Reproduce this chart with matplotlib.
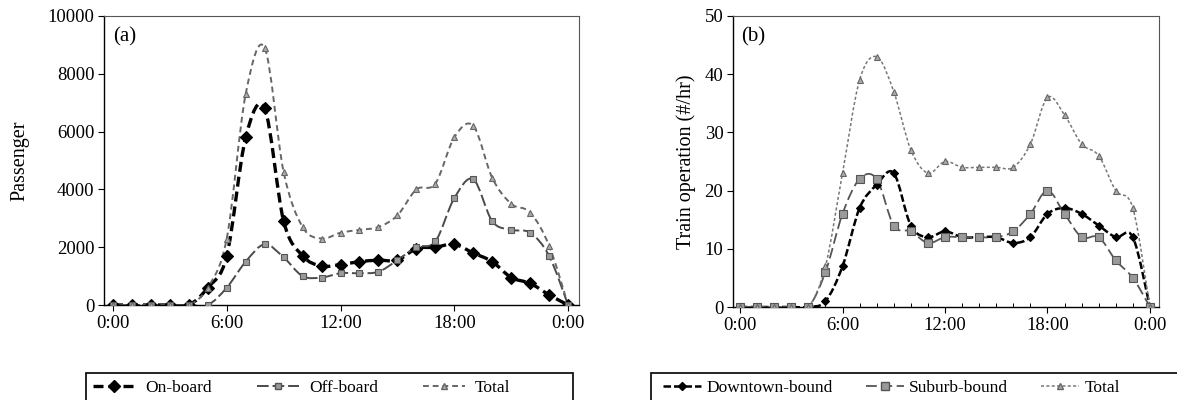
import numpy as np
import matplotlib.pyplot as plt
from matplotlib.path import Path
from matplotlib.patches import PathPatch, Rectangle
from matplotlib.lines import Line2D

plt.rcParams['font.family'] = ['Liberation Serif', 'DejaVu Serif']
plt.rcParams['font.size'] = 12

# hora del dia (0..24)
horas = list(range(25))
etiquetas_hora = ['0:00', '6:00', '12:00', '18:00', '0:00']

# (a) pasajeros por hora
on_board = [0, 0, 0, 0, 0, 600, 1700, 5800, 6800, 2900, 1700, 1350, 1400, 1500, 1550,
            1550, 1950, 2000, 2100, 1800, 1500, 950, 750, 350, 0]
off_board = [0, 0, 0, 0, 0, 0, 600, 1500, 2100, 1650, 1000, 950, 1100, 1100, 1150,
             1550, 2000, 2200, 3700, 4350, 2900, 2600, 2500, 1700, 0]
total_pas = [0, 0, 0, 0, 0, 600, 2300, 7300, 8900, 4600, 2700, 2300, 2500, 2600, 2700,
             3100, 4000, 4200, 5800, 6200, 4400, 3500, 3200, 2050, 0]

# (b) trenes por hora
downtown = [0, 0, 0, 0, 0, 1, 7, 17, 21, 23, 14, 12, 13, 12, 12,
            12, 11, 12, 16, 17, 16, 14, 12, 12, 0]
suburb = [0, 0, 0, 0, 0, 6, 16, 22, 22, 14, 13, 11, 12, 12, 12,
          12, 13, 16, 20, 16, 12, 12, 8, 5, 0]
total_tren = [0, 0, 0, 0, 0, 7, 23, 39, 43, 37, 27, 23, 25, 24, 24,
              24, 24, 28, 36, 33, 28, 26, 20, 17, 0]


# curva suavizada (bezier tipo catmull-rom) que pasa por los puntos
def curva_suave(ax, x, y, **kw):
    p = np.column_stack([x, y]).astype(float)
    n = len(p)
    verts = [p[0]]
    codes = [Path.MOVETO]
    for i in range(n - 1):
        p0 = p[i - 1] if i > 0 else p[i]
        p3 = p[i + 2] if i + 2 < n else p[i + 1]
        c1 = p[i] + (p[i + 1] - p0) / 6.0
        c2 = p[i + 1] - (p3 - p[i]) / 6.0
        verts += [c1, c2, p[i + 1]]
        codes += [Path.CURVE4] * 3
    ax.add_patch(PathPatch(Path(verts, codes), fill=False, **kw))


def graficar_serie(ax, y, color, lw, dashes, marker, ms, mfc, mec):
    curva_suave(ax, horas, y, edgecolor=color, linewidth=lw, linestyle=(0, dashes))
    ax.plot(horas, y, linestyle='none', marker=marker, markersize=ms,
            markerfacecolor=mfc, markeredgecolor=mec, markeredgewidth=0.8, zorder=3)
    return Line2D([], [], color=color, linewidth=lw, linestyle=(0, dashes), marker=marker,
                  markersize=ms, markerfacecolor=mfc, markeredgecolor=mec)


def ejes(ax, ymax, yticks, ylabel, letra, pad):
    ax.set_xlim(-0.47, 24.58)
    ax.set_ylim(0, ymax)
    ax.set_xticks([0, 6, 12, 18, 24])
    ax.set_xticklabels(etiquetas_hora)
    ax.set_yticks(yticks)
    ax.set_ylabel(ylabel, fontsize=14.5, labelpad=pad)
    ax.tick_params(axis='both', labelsize=13.5, length=4, width=0.8, direction='out', pad=3)
    for s in ['top', 'right']:
        ax.spines[s].set_color('#555555')
    for s in ['left', 'bottom']:
        ax.spines[s].set_linewidth(1.0)
    ax.text(0.02, 0.96, letra, transform=ax.transAxes, va='top', ha='left', fontsize=15)


fig = plt.figure(figsize=(11.77, 4.0), dpi=100)
ax1 = fig.add_axes([0.0884, 0.2375, 0.4036, 0.7225])
ax2 = fig.add_axes([0.6228, 0.2325, 0.3619, 0.7275])

h1 = graficar_serie(ax1, on_board, 'black', 2.4, (3, 1.5), 'D', 6.5, 'black', 'black')
h2 = graficar_serie(ax1, off_board, '#4a4a4a', 1.4, (6, 2), 's', 5, '#9a9a9a', '#555555')
h3 = graficar_serie(ax1, total_pas, '#666666', 1.4, (3, 2), '^', 4.5, '#aaaaaa', '#666666')
ejes(ax1, 10000, [0, 2000, 4000, 6000, 8000, 10000], 'Passenger', '(a)', 13)

g1 = graficar_serie(ax2, downtown, 'black', 1.8, (3, 1.2), 'D', 4.5, 'black', 'black')
g2 = graficar_serie(ax2, suburb, '#555555', 1.3, (6, 2.5), 's', 5.5, '#9a9a9a', '#555555')
g3 = graficar_serie(ax2, total_tren, '#777777', 1.1, (2, 1.5), '^', 4.5, '#aaaaaa', '#666666')
ejes(ax2, 50, [0, 10, 20, 30, 40, 50], 'Train operation (#/hr)', '(b)', 6)
ax2.set_xlim(-0.41, 24.53)
ax2.set_xticks(range(25), minor=True)
ax2.tick_params(axis='x', which='minor', direction='in', length=3, width=0.7)

# marcos de las leyendas (el borde inferior queda fuera de la figura)
fig.patches.append(Rectangle((86 / 1177, -0.05), 487 / 1177, 0.05 + 27 / 400,
                             transform=fig.transFigure, fill=False, edgecolor='black', linewidth=1.2))
fig.patches.append(Rectangle((651 / 1177, -0.05), 0.5, 0.05 + 27 / 400,
                             transform=fig.transFigure, fill=False, edgecolor='black', linewidth=1.2))

fig.legend([h1, h2, h3], ['On-board', 'Off-board', 'Total'], ncol=3, loc='upper left',
           bbox_to_anchor=(93 / 1177, 1 - 380 / 400), fontsize=12.5, frameon=False,
           borderpad=0, borderaxespad=0, handlelength=2.4, handletextpad=0.6, columnspacing=2.6)

fig.legend([g1, g2, g3], ['Downtown-bound', 'Suburb-bound', 'Total'], ncol=3, loc='upper left',
           bbox_to_anchor=(663 / 1177, 1 - 380 / 400), fontsize=12.5, frameon=False,
           borderpad=0, borderaxespad=0, handlelength=2.2, handletextpad=0.3, columnspacing=1.9)

fig.savefig('out.png', dpi=100)
